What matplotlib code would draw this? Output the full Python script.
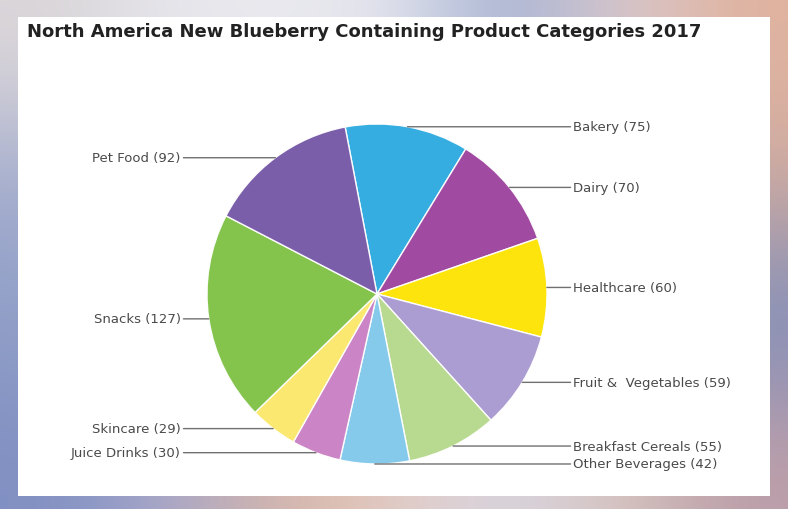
import numpy as np
import matplotlib
matplotlib.use("Agg")
import matplotlib.pyplot as plt
from matplotlib.patches import Rectangle

title = "North America New Blueberry Containing Product Categories 2017"
categories = ["Bakery", "Dairy", "Healthcare", "Fruit &  Vegetables", "Breakfast Cereals",
              "Other Beverages", "Juice Drinks", "Skincare", "Snacks", "Pet Food"]
counts = [75, 70, 60, 59, 55, 42, 30, 29, 127, 92]
colors = ["#2aa9df", "#9c409c", "#fde300", "#a797cf", "#b4d78a",
          "#7fc7ea", "#c97dc3", "#fbe769", "#7dc142", "#7455a6"]

W, H = 788, 510
fig = plt.figure(figsize=(W / 100, H / 100), dpi=100)

# blurred slide background round the chart panel
bg = np.array([
    [[0.86, 0.84, 0.85], [0.91, 0.91, 0.93], [0.92, 0.92, 0.94], [0.90, 0.90, 0.93], [0.62, 0.68, 0.82], [0.86, 0.80, 0.82], [0.88, 0.70, 0.62]],
    [[0.62, 0.66, 0.80], [0.80, 0.80, 0.86], [0.82, 0.82, 0.88], [0.82, 0.82, 0.88], [0.80, 0.80, 0.86], [0.78, 0.76, 0.84], [0.80, 0.66, 0.62]],
    [[0.56, 0.62, 0.78], [0.80, 0.80, 0.86], [0.82, 0.82, 0.88], [0.82, 0.82, 0.88], [0.80, 0.80, 0.86], [0.70, 0.72, 0.84], [0.46, 0.54, 0.74]],
    [[0.50, 0.56, 0.76], [0.66, 0.66, 0.80], [0.84, 0.70, 0.64], [0.90, 0.80, 0.76], [0.84, 0.84, 0.90], [0.86, 0.78, 0.74], [0.74, 0.62, 0.66]],
])
bgax = fig.add_axes([0, 0, 1, 1])
bgax.imshow(bg, aspect="auto", interpolation="bicubic", extent=(0, 1, 0, 1))
bgax.set_axis_off()

# white chart panel
px_l, px_r, px_t, px_b = 18, 770, 18, 497
fig.patches.append(Rectangle((px_l / W, 1 - px_b / H), (px_r - px_l) / W, (px_b - px_t) / H,
                             transform=fig.transFigure, facecolor="white", edgecolor="none", zorder=1))

cx, cy, R = 377, 295, 170
ax = fig.add_axes([px_l / W, 1 - px_b / H, (px_r - px_l) / W, (px_b - px_t) / H])
ax.set_zorder(2)
ax.patch.set_visible(False)

wedges, _ = ax.pie(counts, colors=colors, startangle=100.8, counterclock=False, radius=1,
                   wedgeprops=dict(edgecolor="white", linewidth=1.0, alpha=0.95))
ax.set_aspect("auto")
ax.set_xlim((px_l - cx) / R, (px_r - cx) / R)
ax.set_ylim((cy - px_b) / R, (cy - px_t) / R)
ax.set_axis_off()

label_x = 1.155
for w, name, n in zip(wedges, categories, counts):
    mid = np.deg2rad((w.theta1 + w.theta2) / 2)
    x, y = np.cos(mid), np.sin(mid)
    side = 1 if x >= -0.1 else -1
    ax.annotate(f"{name} ({n})", xy=(x, y), xytext=(side * label_x, y),
                ha="left" if side > 0 else "right", va="center",
                fontsize=9.5, color="#4a4a4a",
                arrowprops=dict(arrowstyle="-", color="#707070", lw=1.0,
                                shrinkA=0, shrinkB=0, connectionstyle="arc3"))

fig.text(27 / W, 1 - 32 / H, title, fontsize=13, fontweight="bold", color="#222222",
         ha="left", va="center", zorder=3)

fig.savefig("out.png", dpi=100)
